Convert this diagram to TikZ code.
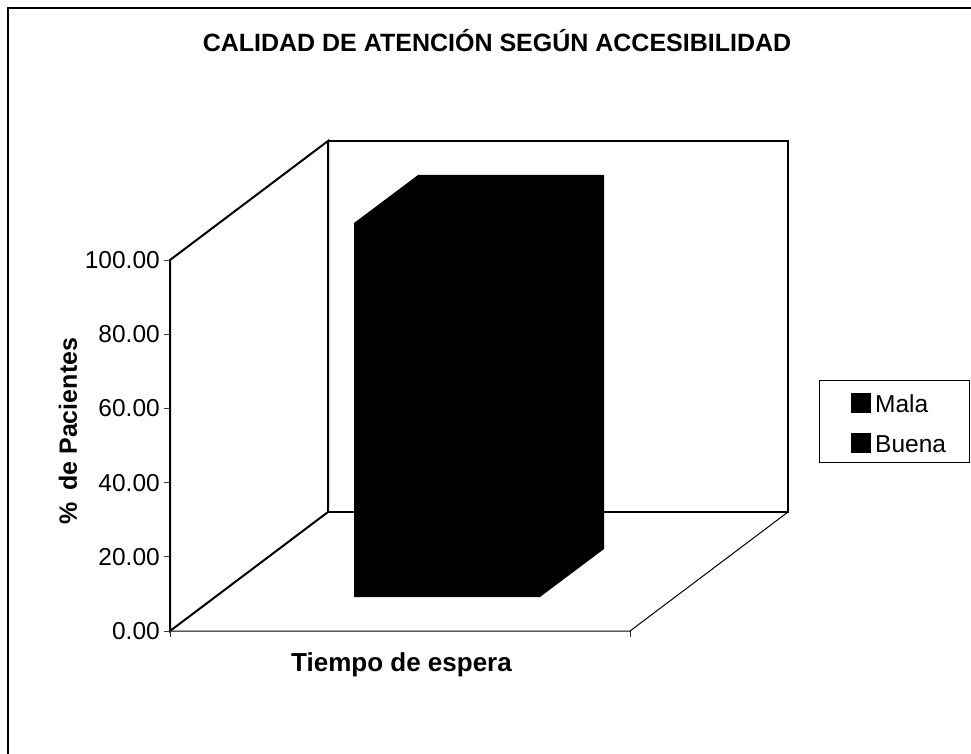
\documentclass[tikz,border=0pt]{standalone}
\usepackage{fontspec}
\setmainfont{Liberation Sans}
\begin{document}
\begin{tikzpicture}[x=1pt,y=-1pt,
  wall/.style={line width=2pt, line join=miter},
  thinline/.style={line width=1pt},
  tickline/.style={line width=0.9pt, black!80},
  ticklab/.style={font=\fontsize{24.5}{28}\selectfont, anchor=east, inner sep=0pt},
  boldtxt/.style={font=\bfseries\fontsize{25}{30}\selectfont, inner sep=0pt},
  axtxt/.style={font=\bfseries\fontsize{26}{30}\selectfont, inner sep=0pt},
  legtxt/.style={font=\fontsize{24.5}{28}\selectfont, inner sep=0pt, anchor=base west},
  legbox/.style={line width=0.9pt}]
\useasboundingbox (0,0) rectangle (971,754);
% outer frame
\draw[line width=1.3pt] (8,770) -- (8,8) -- (990,8);
% corners of the 3D box
\coordinate (FLB) at (170,631);
\coordinate (FLT) at (170,260);
\coordinate (BLB) at (328,512);
\coordinate (BLT) at (328,141);
\coordinate (BRB) at (788,512);
\coordinate (BRT) at (788,141);
\coordinate (FRB) at (630,631);
% walls
\draw[wall] (FLB) -- (FLT) -- (BLT) -- (BLB) -- cycle;
\draw[wall] (BLT) -- (BRT) -- (BRB) -- (BLB);
% floor
\draw[thinline] (FLB) -- (FRB) -- (BRB);
% y ticks and labels
\foreach \i/\lab in {0/0.00,1/20.00,2/40.00,3/60.00,4/80.00,5/100.00}{
  \pgfmathsetmacro{\yy}{631-\i*74.2}
  \coordinate (yt\i) at (170,\yy);
  \coordinate (ytl\i) at (164,\yy);
  \draw[tickline] (ytl\i) -- (yt\i);
  \node[ticklab] (ylab\i) at (160,\yy) {\lab};
}
% x ticks
\coordinate (xt1) at (170,637);
\coordinate (xt2) at (630,637);
\draw[tickline] (FLB) -- (xt1);
\draw[tickline] (FRB) -- (xt2);
% bar
\fill[black] (354,597) -- (354,223) -- (418,175) -- (604,175) -- (604,549) -- (540,597) -- cycle;
% title
\node[boldtxt, anchor=base] (title) at (497,52) {CALIDAD DE ATENCIÓN SEGÚN ACCESIBILIDAD};
% axis titles
\node[axtxt, anchor=base] (xtitle) at (401.5,671) {Tiempo de espera};
\node[boldtxt, rotate=90] (ytitle) at (68,431) {\%\hspace{0.45em}de Pacientes};
% legend
\draw[legbox] (819,380) rectangle (969,462);
\fill[black] (851,393) rectangle (871,413);
\fill[black] (851,433) rectangle (871,453);
\node[legtxt] (lmala) at (875,412.5) {Mala};
\node[legtxt] (lbuena) at (875,452.5) {Buena};
\end{tikzpicture}
\end{document}
